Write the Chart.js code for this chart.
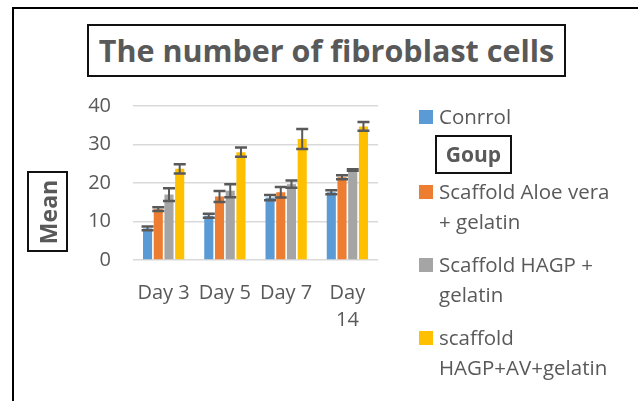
<!DOCTYPE html>
<html>
<head>
    <meta charset="utf-8" />
    <title>The number of fibroblast cells</title>
    <script src="https://cdn.jsdelivr.net/npm/chart.js@4.4.0/dist/chart.umd.min.js"></script>
    <style>
        body { margin: 0; background: #fff; font-family: "Open Sans", sans-serif; }
        #wrap { position: relative; width: 638px; height: 401px; overflow: hidden; }
        #frame { position: absolute; left: 12px; top: 7px; width: 700px; height: 500px; border: 2px solid #000; box-sizing: border-box; }
        #chart { position: absolute; left: 0; top: 0; }
        #title { position: absolute; left: 87px; top: 24px; width: 479px; height: 53px; border: 2px solid #111; box-sizing: border-box;
                 text-align: center; font-weight: bold; font-size: 30.5px; line-height: 48px; color: #595959; background: #fff; white-space: nowrap; }
        #ylabel { position: absolute; left: 27px; top: 171px; width: 41px; height: 81px; border: 2px solid #111; box-sizing: border-box; }
        #ylabel span { position: absolute; left: 50%; top: 50%; transform: translate(-50%, -50%) rotate(-90deg);
                       font-weight: bold; font-size: 23px; color: #595959; white-space: nowrap; }
        #legend { position: absolute; left: 0; top: 0; }
        .item { position: absolute; left: 419px; width: 215px; font-size: 20.5px; line-height: 29.5px; color: #595959; }
        .item i { position: absolute; left: 0; top: 8px; width: 14px; height: 14px; }
        .item span { display: block; margin-left: 20px; width: 182px; }
        #gtitle { position: absolute; left: 435px; top: 135px; width: 77px; height: 39px; border: 2px solid #111; box-sizing: border-box;
                  text-align: center; font-weight: bold; font-size: 21px; line-height: 35px; color: #595959; }
    </style>
</head>
<body>
<div id="wrap">
    <div id="frame"></div>
    <canvas id="chart" width="638" height="401"></canvas>
    <div id="title">The number of fibroblast cells</div>
    <div id="ylabel"><span>Mean</span></div>
    <div id="legend"></div>
    <div id="gtitle">Goup</div>
</div>
<script>
    const categories = ['Day 3', 'Day 5', 'Day 7', 'Day 14'];
    const seriesNames = ['Conrrol', 'Scaffold Aloe vera + gelatin', 'Scaffold HAGP + gelatin', 'scaffold HAGP+AV+gelatin'];
    const controlMean = [8.2, 11.5, 16.2, 17.6];
    const controlErr = [0.5, 0.5, 0.7, 0.5];
    const aloeMean = [13.2, 16.5, 17.6, 21.5];
    const aloeErr = [0.5, 1.45, 1.35, 0.5];
    const hagpMean = [17.0, 18.0, 19.7, 23.4];
    const hagpErr = [1.65, 1.7, 0.95, 0.2];
    const comboMean = [23.7, 28.0, 31.4, 34.7];
    const comboErr = [1.2, 1.2, 2.6, 1.15];
    const yTicks = [0, 10, 20, 30, 40];
    const colors = ['#5B9BD5', '#ED7D31', '#A5A5A5', '#FFC000'];

    const means = [controlMean, aloeMean, hagpMean, comboMean];
    const errs = [controlErr, aloeErr, hagpErr, comboErr];

    // legend tops (first line) -- layout only
    const legendTops = [102, 177, 250, 323];
    const legend = document.getElementById('legend');
    seriesNames.forEach((name, i) => {
        const d = document.createElement('div');
        d.className = 'item';
        d.style.top = legendTops[i] + 'px';
        d.innerHTML = '<i style="background:' + colors[i] + '"></i><span>' + name + '</span>';
        legend.appendChild(d);
    });

    const errorBars = {
        id: 'errorBars',
        afterDatasetsDraw(chart) {
            const ctx = chart.ctx;
            const y = chart.scales.y;
            ctx.save();
            ctx.strokeStyle = '#595959';
            chart.data.datasets.forEach((ds, di) => {
                const meta = chart.getDatasetMeta(di);
                meta.data.forEach((bar, i) => {
                    const e = errs[di][i];
                    const v = means[di][i];
                    const top = y.getPixelForValue(v + e);
                    const bot = y.getPixelForValue(v - e);
                    const half = 6;
                    ctx.lineWidth = 2;
                    ctx.beginPath();
                    ctx.moveTo(bar.x, top);
                    ctx.lineTo(bar.x, bot);
                    ctx.stroke();
                    ctx.lineWidth = 2.5;
                    ctx.beginPath();
                    ctx.moveTo(bar.x - half, top);
                    ctx.lineTo(bar.x + half, top);
                    ctx.moveTo(bar.x - half, bot);
                    ctx.lineTo(bar.x + half, bot);
                    ctx.stroke();
                });
            });
            ctx.restore();
        }
    };

    new Chart(document.getElementById('chart'), {
        type: 'bar',
        data: {
            labels: categories,
            datasets: seriesNames.map((name, i) => ({
                label: name,
                data: means[i],
                backgroundColor: colors[i],
                categoryPercentage: 0.7,
                barPercentage: 0.85
            }))
        },
        options: {
            responsive: false,
            animation: false,
            layout: { padding: { left: 0, top: 106, right: 260, bottom: 61 } },
            plugins: { legend: { display: false }, tooltip: { enabled: false } },
            scales: {
                x: {
                    grid: { display: false },
                    border: { display: false },
                    afterFit: s => { s.height = 80; },
                    ticks: {
                        color: '#595959',
                        font: { family: 'Open Sans', size: 20, lineHeight: 1.35 },
                        padding: 12,
                        maxRotation: 0,
                        autoSkip: false,
                        callback: function (val) {
                            const l = this.getLabelForValue(val);
                            return l.length > 5 ? l.split(' ') : l;
                        }
                    }
                },
                y: {
                    min: 0,
                    max: 40,
                    afterFit: s => { s.width = 133; },
                    afterBuildTicks: s => { s.ticks = yTicks.map(v => ({ value: v })); },
                    grid: { color: '#D9D9D9', lineWidth: 1.5, drawTicks: false },
                    border: { display: false },
                    ticks: {
                        color: '#595959',
                        font: { family: 'Open Sans', size: 20 },
                        padding: 22
                    }
                }
            }
        },
        plugins: [errorBars]
    });
</script>
</body>
</html>
